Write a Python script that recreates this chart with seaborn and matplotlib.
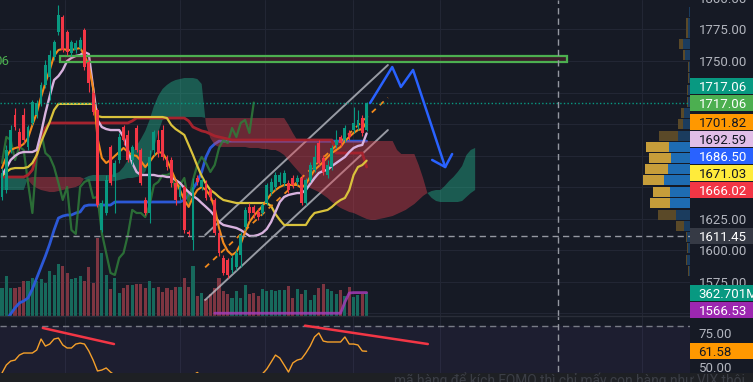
import numpy as np
import pandas as pd
import matplotlib
matplotlib.use("Agg")
import matplotlib.pyplot as plt
import seaborn as sns
from matplotlib.patches import Rectangle
from matplotlib.transforms import blended_transform_factory

sns.set_theme(style="dark")
plt.rcParams['font.family'] = ['Roboto', 'DejaVu Sans']

# ---------------- data ----------------
opens = [1642.3, 1647.8, 1679.5, 1707.2, 1693.8, 1707.2, 1681.9, 1700.9, 1707.2, 1716.7,
         1731.0, 1737.3, 1753.2, 1773.0, 1784.8, 1773.0, 1756.3, 1758.7, 1760.3, 1774.5,
         1749.2, 1724.6, 1711.2, 1616.1, 1629.6, 1681.9, 1658.1, 1671.6, 1697.7, 1691.4,
         1671.6, 1696.9, 1679.5, 1639.9, 1629.6, 1679.5, 1687.4, 1695.3, 1674.0, 1671.6,
         1653.4, 1642.3, 1650.2, 1614.6, 1608.2, 1657.3, 1650.2, 1653.4, 1647.8, 1639.9,
         1613.8, 1594.0, 1592.4, 1584.5, 1586.8, 1596.3, 1618.5, 1634.4, 1634.4, 1630.4,
         1629.6, 1637.5, 1646.2, 1650.2, 1654.2, 1653.4, 1653.4, 1657.3, 1654.2, 1657.3,
         1637.5, 1655.7, 1663.7, 1685.0, 1673.2, 1659.7, 1666.0, 1683.5, 1689.8, 1687.4,
         1693.0, 1695.3, 1697.7, 1704.9, 1695.3]
closes = [1661.3, 1679.5, 1695.3, 1697.7, 1681.9, 1687.4, 1697.7, 1717.5, 1716.7, 1731.0,
          1746.8, 1754.7, 1765.0, 1786.4, 1758.7, 1757.1, 1765.0, 1764.2, 1766.6, 1745.2,
          1732.6, 1709.6, 1635.9, 1637.5, 1655.7, 1653.4, 1669.2, 1689.8, 1687.4, 1671.6,
          1681.9, 1679.5, 1653.4, 1629.6, 1674.0, 1693.8, 1677.1, 1674.0, 1666.0, 1653.4,
          1639.9, 1650.2, 1616.1, 1613.0, 1650.2, 1654.2, 1655.7, 1641.5, 1642.3, 1613.8,
          1597.9, 1582.1, 1580.5, 1594.0, 1597.9, 1612.2, 1632.0, 1629.6, 1629.6, 1626.4,
          1635.9, 1651.8, 1654.2, 1659.7, 1659.7, 1661.3, 1647.8, 1651.8, 1657.3, 1637.5,
          1655.7, 1667.6, 1674.0, 1669.2, 1662.1, 1667.6, 1681.1, 1687.4, 1685.0, 1696.9,
          1689.8, 1700.9, 1703.3, 1693.0, 1717.06]
highs = [1665.2, 1683.5, 1699.3, 1712.8, 1697.0, 1712.8, 1699.3, 1719.1, 1719.1, 1733.4,
         1750.8, 1758.7, 1766.6, 1794.3, 1786.4, 1774.5, 1766.6, 1766.6, 1769.0, 1776.1,
         1750.8, 1727.0, 1712.8, 1639.9, 1659.7, 1683.5, 1671.6, 1693.0, 1699.3, 1695.3,
         1683.5, 1699.3, 1681.1, 1642.3, 1679.5, 1695.3, 1695.3, 1699.3, 1675.5, 1674.0,
         1655.7, 1651.8, 1651.8, 1616.1, 1657.3, 1659.7, 1657.3, 1655.7, 1649.4, 1641.5,
         1616.1, 1596.3, 1594.0, 1596.3, 1600.3, 1614.6, 1634.4, 1637.5, 1635.9, 1633.6,
         1637.5, 1653.4, 1657.3, 1662.1, 1662.1, 1663.7, 1655.7, 1659.7, 1659.7, 1659.7,
         1657.3, 1670.0, 1683.5, 1687.4, 1675.5, 1671.6, 1683.5, 1695.3, 1691.4, 1699.3,
         1695.3, 1713.6, 1711.2, 1707.2, 1717.5]
lows = [1639.9, 1645.4, 1677.1, 1695.3, 1679.5, 1685.0, 1679.5, 1699.3, 1704.8, 1714.3,
        1728.6, 1719.1, 1750.8, 1770.6, 1757.1, 1754.7, 1754.0, 1756.3, 1758.7, 1742.9,
        1725.4, 1707.2, 1634.4, 1614.6, 1628.0, 1651.8, 1629.6, 1669.2, 1683.5, 1670.0,
        1667.6, 1677.9, 1651.8, 1628.0, 1621.7, 1675.5, 1674.0, 1671.6, 1663.7, 1650.2,
        1635.9, 1639.9, 1613.8, 1611.4, 1600.3, 1651.8, 1647.8, 1639.9, 1639.9, 1612.2,
        1595.5, 1580.5, 1578.1, 1582.1, 1584.5, 1586.8, 1616.1, 1624.1, 1625.6, 1624.1,
        1628.0, 1635.9, 1643.9, 1647.8, 1651.8, 1651.0, 1645.4, 1649.4, 1651.8, 1635.9,
        1635.9, 1654.2, 1662.1, 1667.6, 1659.7, 1657.3, 1663.7, 1681.1, 1682.7, 1685.8,
        1687.4, 1693.0, 1695.3, 1690.6, 1694.5]
volumes_m = [446, 631, 446, 446, 457, 552, 552, 595, 552, 579,
             525, 710, 642, 815, 789, 683, 579, 595, 631, 552,
             773, 525, 1235, 998, 647, 421, 604, 367, 437, 489,
             489, 500, 500, 437, 552, 437, 457, 383, 446, 405,
             457, 457, 604, 457, 789, 315, 367, 263, 342, 437,
             604, 394, 352, 289, 394, 289, 489, 342, 367, 315,
             421, 394, 405, 394, 405, 405, 468, 289, 421, 342,
             405, 248, 331, 446, 500, 421, 394, 342, 405, 315,
             457, 300, 331, 352, 362.701]

ema_orange = [1665.2, 1674.0, 1679.5, 1681.0, 1681.9, 1684.3, 1689.0, 1699.3, 1708.8, 1721.5,
              1732.6, 1742.9, 1754.0, 1758.7, 1759.5, 1758.7, 1758.7, 1759.5, 1760.3, 1754.7,
              1746.0, 1728.6, 1689.0, 1673.2, 1669.2, 1671.6, 1674.8, 1677.9, 1681.1, 1677.9,
              1675.5, 1674.8, 1670.8, 1666.0, 1670.0, 1674.8, 1677.9, 1677.1, 1671.6, 1663.7,
              1655.7, 1647.8, 1639.9, 1634.4, 1642.3, 1647.8, 1650.2, 1647.8, 1643.1, 1633.6,
              1617.7, 1605.9, 1599.5, 1596.3, 1598.7, 1605.1, 1614.6, 1622.5, 1627.2, 1631.2,
              1635.1, 1639.9, 1644.7, 1647.8, 1650.2, 1651.8, 1651.8, 1651.8, 1651.8, 1649.4,
              1652.6, 1658.1, 1663.7, 1666.8, 1670.0, 1674.0, 1677.1, 1679.5, 1681.9, 1686.6,
              1689.8, 1693.0, 1695.3, 1696.1, 1701.82]
ema_lavender = [1659.7, 1665.2, 1671.6, 1674.8, 1677.1, 1677.9, 1677.9, 1677.9, 1679.5, 1693.0,
                1708.8, 1722.3, 1734.9, 1738.1, 1742.9, 1750.0, 1752.4, 1754.0, 1754.7, 1757.1,
                1755.5, 1728.6, 1703.3, 1697.7, 1696.1, 1695.3, 1695.3, 1695.3, 1689.8, 1679.5,
                1669.2, 1662.1, 1659.7, 1659.7, 1659.7, 1659.7, 1658.9, 1658.9, 1658.1, 1658.1,
                1655.7, 1653.4, 1649.4, 1646.2, 1643.1, 1640.7, 1637.5, 1634.4, 1631.2, 1627.2,
                1622.5, 1620.1, 1619.3, 1618.5, 1617.7, 1616.1, 1613.8, 1611.4, 1611.4, 1612.2,
                1613.8, 1616.9, 1622.5, 1630.4, 1638.3, 1642.3, 1643.9, 1644.7, 1645.4, 1645.4,
                1647.8, 1652.6, 1657.3, 1661.3, 1662.9, 1663.7, 1666.8, 1669.2, 1671.6, 1674.0,
                1677.9, 1681.1, 1682.7, 1683.5, 1692.59]
line_yellow = [1658.9, 1662.1, 1664.5, 1665.2, 1665.2, 1665.2, 1666.0, 1669.2, 1675.5, 1685.8,
               1693.8, 1701.7, 1711.2, 1716.0, 1716.0, 1716.0, 1716.0, 1716.0, 1716.0, 1716.0,
               1716.0, 1716.0, 1706.4, 1705.6, 1705.6, 1705.6, 1705.6, 1705.6, 1705.6, 1705.6,
               1705.6, 1705.6, 1705.6, 1705.6, 1705.6, 1705.6, 1705.6, 1705.6, 1704.8, 1699.3,
               1696.1, 1693.8, 1691.4, 1683.5, 1675.5, 1666.8, 1658.9, 1652.6, 1647.8, 1645.4,
               1642.3, 1639.9, 1639.1, 1638.3, 1637.5, 1637.5, 1637.5, 1637.5, 1637.5, 1637.5,
               1637.5, 1637.5, 1635.1, 1628.8, 1624.1, 1620.1, 1620.1, 1620.1, 1620.1, 1620.1,
               1620.1, 1625.6, 1629.6, 1630.4, 1631.2, 1632.0, 1634.4, 1637.5, 1639.9, 1641.5,
               1647.8, 1659.7, 1666.0, 1667.6, 1671.03]
base_red = [1658.1, 1658.1, 1658.1, 1658.1, 1658.1, 1658.1, 1659.7, 1663.7, 1675.5, 1687.4,
            1697.0, 1700.9, 1700.9, 1700.9, 1700.9, 1700.9, 1700.9, 1700.9, 1700.9, 1700.9,
            1700.9, 1700.9, 1700.9, 1700.9, 1700.9, 1700.9, 1700.9, 1700.9, 1700.9, 1700.9,
            1702.5, 1704.8, 1704.8, 1704.8, 1704.8, 1704.8, 1704.8, 1704.8, 1704.8, 1704.8,
            1704.8, 1704.8, 1704.8, 1702.5, 1697.7, 1696.1, 1694.6, 1693.8, 1692.2, 1690.6,
            1689.8, 1689.0, 1688.2, 1687.4, 1687.4, 1687.4, 1687.4, 1687.4, 1687.4, 1687.4,
            1687.4, 1687.4, 1687.4, 1687.4, 1687.4, 1687.4, 1687.4, 1687.4, 1687.4, 1687.4,
            1687.4, 1687.4, 1687.4, 1687.4, 1687.4, 1687.4, 1687.4, 1677.1, 1677.1, 1677.1,
            1677.1, 1677.1, 1677.1, 1677.1, 1666.02]
conv_blue = [1540.9, 1544.9, 1549.6, 1554.4, 1558.3, 1559.9, 1562.3, 1569.4, 1578.1, 1586.8,
             1595.5, 1605.1, 1616.1, 1625.6, 1627.2, 1628.0, 1628.0, 1629.6, 1630.4, 1635.1,
             1635.9, 1635.9, 1635.9, 1635.9, 1635.9, 1635.9, 1638.3, 1638.3, 1638.3, 1638.3,
             1638.3, 1638.3, 1638.3, 1638.3, 1638.3, 1638.3, 1638.3, 1638.3, 1638.3, 1638.3,
             1638.3, 1638.3, 1639.9, 1643.9, 1648.6, 1654.2, 1662.1, 1674.0, 1681.1, 1684.3,
             1686.5, 1686.5, 1686.5, 1686.5, 1686.5, 1686.5, 1686.5, 1686.5, 1686.5, 1686.5,
             1686.5, 1686.5, 1686.5, 1686.5, 1686.5, 1686.5, 1686.5, 1686.5, 1686.5, 1686.5,
             1686.5, 1686.5, 1686.5, 1686.5, 1686.5, 1686.5, 1686.5, 1686.5, 1686.5, 1686.5,
             1686.5, 1686.5, 1686.5, 1686.5, 1686.5]
span_a = [1657.3, 1657.3, 1657.3, 1657.3, 1657.3, 1657.3, 1655.7, 1651.8, 1649.4, 1647.8,
          1647.0, 1646.2, 1646.2, 1647.0, 1647.8, 1648.6, 1649.4, 1650.2, 1651.8, 1657.3,
          1658.9, 1659.7, 1659.7, 1659.7, 1659.7, 1659.7, 1660.5, 1662.1, 1666.0, 1671.6,
          1677.1, 1682.7, 1688.2, 1694.5, 1703.3, 1714.3, 1722.3, 1727.8, 1731.0, 1733.4,
          1734.9, 1735.7, 1736.5, 1736.5, 1736.5, 1735.7, 1731.8, 1699.3, 1689.0, 1683.5,
          1681.9, 1681.9, 1681.9, 1681.9, 1681.9, 1681.9, 1681.9, 1681.1, 1681.1, 1681.1,
          1680.3, 1680.3, 1679.5, 1679.5, 1677.9, 1675.5, 1671.6, 1667.6, 1663.7, 1659.7,
          1651.8, 1649.4, 1647.8, 1646.2, 1643.9, 1641.5, 1638.3, 1635.9, 1633.6, 1632.0,
          1630.4, 1629.6, 1628.0, 1626.4, 1624.9, 1624.1, 1624.1, 1624.9, 1625.6, 1626.4,
          1627.2, 1628.8, 1630.4, 1632.0, 1634.4, 1636.7, 1639.9, 1643.1, 1645.4, 1647.0,
          1647.8, 1647.8, 1651.0, 1654.9, 1658.1, 1662.1, 1666.8, 1675.5, 1679.5, 1681.1]
span_b = [1647.8, 1647.8, 1647.8, 1647.8, 1647.8, 1647.8, 1657.3, 1658.1, 1658.1, 1658.1,
          1658.1, 1658.1, 1658.1, 1658.1, 1658.1, 1658.1, 1658.1, 1658.1, 1658.1, 1656.5,
          1654.9, 1654.9, 1654.9, 1654.9, 1654.9, 1654.9, 1654.9, 1655.7, 1656.5, 1657.3,
          1657.3, 1658.1, 1658.9, 1662.1, 1671.6, 1681.1, 1693.8, 1703.3, 1705.6, 1705.6,
          1705.6, 1705.6, 1705.6, 1705.6, 1705.6, 1705.6, 1705.6, 1704.8, 1704.8, 1704.8,
          1704.8, 1704.8, 1704.8, 1704.8, 1704.8, 1704.8, 1704.8, 1704.8, 1704.8, 1704.8,
          1704.8, 1704.8, 1704.8, 1704.8, 1704.8, 1704.8, 1699.3, 1693.0, 1687.4, 1686.6,
          1686.6, 1686.6, 1686.6, 1686.6, 1686.6, 1686.6, 1686.6, 1686.6, 1686.6, 1686.6,
          1686.6, 1686.6, 1686.6, 1686.6, 1686.6, 1686.6, 1686.6, 1686.6, 1686.6, 1686.6,
          1686.6, 1679.5, 1676.3, 1676.3, 1676.3, 1676.3, 1667.6, 1657.3, 1645.4, 1641.5,
          1639.1, 1638.3, 1638.3, 1638.3, 1638.3, 1638.3, 1639.1, 1642.3, 1645.4, 1647.8]
purple_start = 49
purple_line = [1550.2] * 30 + [1559.1, 1566.2, 1566.53, 1566.53, 1566.53, 1566.53]
rsi = [45.6, 51.5, 54.4, 55.1, 58.8, 60.3, 60.3, 60.3, 62.5, 70.6,
       65.4, 66.9, 70.6, 71.3, 66.2, 64.0, 64.0, 66.9, 67.6, 66.9,
       61.8, 55.1, 47.1, 47.8, 49.3, 46.3, 44.0, 43.0, 44.0, 41.0,
       43.0, 41.0, 37.0, 33.0, 42.0, 44.0, 42.0, 39.0, 37.0, 34.0,
       31.0, 34.0, 28.0, 28.0, 44.0, 46.0, 43.0, 40.0, 39.0, 32.0,
       27.0, 24.0, 23.0, 29.0, 32.0, 38.0, 44.0, 43.0, 42.0, 41.0,
       45.0, 48.5, 53.6, 58.8, 56.6, 51.5, 46.3, 53.0, 55.1, 56.0,
       60.3, 65.4, 72.1, 75.0, 69.1, 68.4, 68.4, 68.4, 68.4, 72.1,
       66.9, 66.9, 66.2, 61.8, 61.58]

# drawings
zone_i = [13.4, 130.1]
zone_p = [1749.2, 1753.9]
chan_i = [46.8, 88.9]
chan_upper = [1612.2, 1746.8]
chan_lower = [1560.7, 1695.3]
chan_mid = [1586.5, 1721.0]
path_i = [84.8, 89.9, 91.9, 94.7, 102.1]
path_p = [1716.7, 1745.2, 1729.4, 1742.9, 1666.0]
head_i = [99.1, 102.1, 103.7]
head_p = [1671.6, 1666.0, 1676.3]
rsi_div1_i = [9.4, 25.8]
rsi_div1_v = [78.7, 66.9]
rsi_div2_i = [69.8, 98.1]
rsi_div2_v = [80.4, 66.9]
vgrid_i = [14.5, 41.0, 60.6, 80.9, 100.9, 147.5]
cross_i = 128.1
cross_p = 1611.45
last_close = 1717.06
price_ticks = [1550, 1575, 1600, 1625, 1650, 1675, 1700, 1725, 1750, 1775, 1800]
rsi_ticks = [75, 50]

# volume profile (right side)
prof_p = [1788.8, 1780.1, 1772.2, 1763.5, 1754.7, 1745.2, 1736.5, 1727.0, 1717.5, 1708.8,
          1700.1, 1690.6, 1681.9, 1673.2, 1664.5, 1655.7, 1646.2, 1637.5, 1628.0, 1619.3,
          1610.6, 1601.9, 1592.4, 1583.7]
prof_up = [10, 17, 17, 67, 50, 10, 10, 20, 20, 60, 67, 123, 210, 190, 217, 260, 200, 200,
           140, 60, 27, 23, 27, 10]
prof_dn = [0, 23, 23, 43, 23, 7, 7, 10, 10, 30, 57, 187, 230, 220, 233, 213, 173, 200,
           183, 80, 13, 10, 13, 7]
prof_va = [False] * 12 + [True] * 6 + [False] * 6

# ---------------- figure ----------------
BG = '#161a25'
GRID = '#222634'
UP, DN = '#089981', '#f23645'
W, H = 753, 382
PLOT_W, MAIN_H = 690, 316


def fx(px):
    return px / W


def fy(py):
    return 1 - py / H


fig = plt.figure(figsize=(W / 100, H / 100), dpi=100)
fig.patch.set_facecolor(BG)
rect_main = [0, fy(MAIN_H), fx(PLOT_W), MAIN_H / H]
ax_vol = fig.add_axes(rect_main, zorder=0)
ax_prof = fig.add_axes(rect_main, zorder=1)
ax = fig.add_axes(rect_main, zorder=2)
ax_rsi = fig.add_axes([0, 0, fx(PLOT_W), (H - MAIN_H) / H], zorder=2)

XLIM = (-0.46, 158.5)
PLIM = (1548.0, 1798.3)
VOL_TOP = 4980
RLIM = (39.0, 87.5)

ax_vol.set_facecolor(BG)
ax_rsi.set_facecolor(BG)
ax_prof.patch.set_alpha(0)
ax.patch.set_alpha(0)
for a in (ax_vol, ax, ax_rsi):
    a.set_xlim(*XLIM)
ax.set_ylim(*PLIM)
ax_prof.set_ylim(*PLIM)
ax_prof.set_xlim(6900, 0)
ax_vol.set_ylim(0, VOL_TOP)
ax_rsi.set_ylim(*RLIM)

idx = np.arange(len(closes))
fidx = np.arange(len(span_a))
o = np.array(opens); c = np.array(closes); hi = np.array(highs); lo = np.array(lows)
up = c >= o

# grid (behind volume)
gtr = blended_transform_factory(ax_vol.transAxes, ax.transData)
for p in price_ticks:
    ax_vol.plot([0, 1], [p, p], color=GRID, lw=0.8, transform=gtr, zorder=0)
for g in vgrid_i:
    ax_vol.axvline(g, color=GRID, lw=0.8, zorder=0)
    ax_rsi.axvline(g, color=GRID, lw=0.8, zorder=0)

# volume
ax_vol.bar(idx, volumes_m, width=0.72, color=np.where(up, '#17695c', '#7d3541'), linewidth=0, zorder=2)

# volume profile
pa = np.array(prof_va)
blue_c = np.where(pa, '#1e6cb3', '#1b3c5e')
gold_c = np.where(pa, '#c69d3a', '#5a4928')
ax_prof.barh(prof_p, prof_up, left=0, height=7.9, color=blue_c, linewidth=0)
ax_prof.barh(prof_p, prof_dn, left=prof_up, height=7.9, color=gold_c, linewidth=0)

# cloud
A = np.array(span_a); B = np.array(span_b)
ax.fill_between(fidx, A, B, where=A >= B, interpolate=True, color='#25bf95', alpha=0.4, lw=0, zorder=2)
ax.fill_between(fidx, A, B, where=A < B, interpolate=True, color='#e8424f', alpha=0.4, lw=0, zorder=2)


def sline(a, x, y, color, lw, z, alpha=1.0, ls='-'):
    sns.lineplot(x=x, y=y, ax=a, color=color, linewidth=lw, sort=False,
                 estimator=None, errorbar=None, zorder=z, alpha=alpha, linestyle=ls)


# lines
sline(ax, idx, conv_blue, '#2c58d6', 2.0, 1.5)
sline(ax, chan_i, chan_upper, '#c3c6ce', 1.4, 1.6, alpha=0.75)
sline(ax, chan_i, chan_lower, '#c3c6ce', 1.4, 1.6, alpha=0.75)
sline(ax, chan_i, chan_mid, '#f28a1c', 1.3, 3.5, ls=(0, (3, 3)))
sline(ax, idx[:len(closes) - 26], closes[26:], '#2f7d3a', 1.6, 3, alpha=0.85)
sline(ax, idx, base_red, '#a5232e', 2.0, 3)
sline(ax, idx, line_yellow, '#d9c23c', 1.6, 3)
sline(ax, idx, ema_lavender, '#d8b2de', 1.7, 3.2)
sline(ax, idx, ema_orange, '#f28a1c', 1.5, 3.3)
sline(ax, idx[purple_start:], purple_line, '#a33bb5', 2.0, 3, alpha=0.85)
sline(ax, path_i, path_p, '#2962ff', 1.8, 7)
sline(ax, head_i, head_p, '#2962ff', 1.8, 7)

# zone rectangle
ax.add_patch(Rectangle((zone_i[0], zone_p[0]), zone_i[1] - zone_i[0], zone_p[1] - zone_p[0],
                       facecolor=(0.95, 0.21, 0.27, 0.17), edgecolor='#4caf50', lw=1.6, zorder=4))

# candles
ccol = np.where(up, UP, DN)
ax.vlines(idx, lo, hi, colors=ccol, lw=0.8, zorder=5)
ax.bar(idx, np.maximum(np.abs(c - o), 0.7), bottom=np.minimum(o, c), width=0.66,
       color=ccol, linewidth=0, zorder=6)

# reference lines
ax.axhline(last_close, color='#089981', lw=1, ls=(0, (1, 1.6)), zorder=4)
ax.axhline(cross_p, color='#9598a1', lw=1, ls=(0, (4.5, 3)), zorder=4)
ax.axvline(cross_i, color='#9598a1', lw=1, ls=(0, (4.5, 3)), zorder=4)
ax_rsi.axvline(cross_i, color='#9598a1', lw=1, ls=(0, (4.5, 3)), zorder=4)

# RSI panel
ax_rsi.axhspan(20, 80, color='#7e57c2', alpha=0.075, lw=0, zorder=0.5)
ax_rsi.axhline(80, color='#787b86', lw=1, ls=(0, (4.5, 3)), zorder=1)
sline(ax_rsi, idx, rsi, '#f5a02a', 1.0, 3)
sline(ax_rsi, rsi_div1_i, rsi_div1_v, '#f23645', 1.8, 4)
sline(ax_rsi, rsi_div2_i, rsi_div2_v, '#f23645', 1.8, 4)

for a in (ax_vol, ax_prof, ax, ax_rsi):
    a.set_xticks([]); a.set_yticks([])
    a.set_xlabel(''); a.set_ylabel('')
    for s in a.spines.values():
        s.set_visible(False)
    if a.get_legend() is not None:
        a.get_legend().remove()

# separator between panels
fig.add_artist(plt.Line2D([0, fx(PLOT_W)], [fy(MAIN_H), fy(MAIN_H)], color='#2a2e39', lw=1, zorder=5))

# ---------------- price axis text ----------------
FS = 9.5
TXT = '#b2b5be'


def py_of(a, v):
    return H - a.transData.transform((0, v))[1]


tag_centres = []


def tag(py, text, bg, fg):
    tag_centres.append(py)
    fig.add_artist(Rectangle((fx(690), fy(py + 8)), 70 / W, 16 / H, transform=fig.transFigure,
                             facecolor=bg, edgecolor='none', zorder=20))
    fig.text(fx(698.5), fy(py), text, color=fg, fontsize=FS, va='center_baseline',
             ha='left', zorder=21)


tags_main = [(last_close, '#4caf50', 'white'), (1701.82, '#ff9800', '#131722'),
             (1692.59, '#e1bee7', '#131722'), (1686.50, '#2962ff', 'white'),
             (1671.03, '#ffeb3b', '#131722'), (1666.02, '#f23645', 'white')]
prev = None
for k, (v, bgc, fgc) in enumerate(tags_main):
    y = py_of(ax, v)
    if prev is not None:
        y = max(y, prev + 17)
    if k == 0:
        tag(y - 16.5, f"{v:.2f}", '#089981', 'white')
    tag(y, f"{v:.2f}", bgc, fgc)
    prev = y

tag(py_of(ax, cross_p), f"{cross_p:.2f}", '#363a45', 'white')
yv = py_of(ax_vol, volumes_m[-1])
tag(yv, f"{volumes_m[-1]:.3f}M", '#089981', 'white')
yp = max(py_of(ax, purple_line[-1]), yv + 17)
tag(yp, f"{purple_line[-1]:.2f}", '#9c27b0', 'white')
ry = py_of(ax_rsi, rsi[-1])
tag(ry, f"{rsi[-1]:.2f}", '#ff9800', '#131722')

# tick labels (skip the ones hidden under a tag)
for p in price_ticks:
    y = py_of(ax, p)
    if min(abs(y - t) for t in tag_centres) > 10:
        fig.text(fx(698.5), fy(y), f"{p:.2f}", color=TXT, fontsize=FS,
                 va='center_baseline', ha='left', zorder=10)
for v in rsi_ticks:
    fig.text(fx(698.5), fy(py_of(ax_rsi, v)), f"{v:.2f}", color=TXT, fontsize=FS,
             va='center_baseline', ha='left', zorder=10)

# cut-off label at left
fig.text(fx(9), fy(py_of(ax, 1750.5)), "06", color='#4caf50', fontsize=9.5,
         va='center_baseline', ha='right', zorder=10)

# bottom strip with watermark text
fig.add_artist(Rectangle((0, 0), 1, 9 / H, transform=fig.transFigure, facecolor='#1e2024',
                         edgecolor='none', zorder=30))
fig.text(fx(394), fy(384.5), "mã hàng để kích FOMO thì chỉ mấy con hàng như VIX thôi",
         color='#3b3e46', fontsize=9.9, va='baseline', ha='left', zorder=31)

fig.savefig("out.png", dpi=100, facecolor=BG)
